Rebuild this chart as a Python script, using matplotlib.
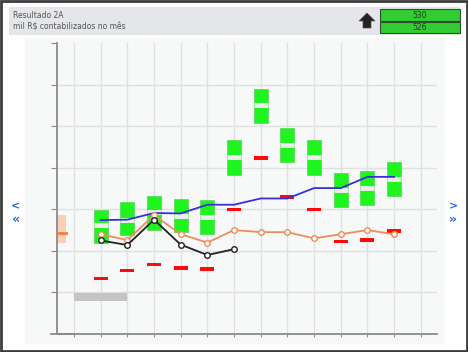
import matplotlib
matplotlib.use("Agg")
import matplotlib.pyplot as plt
from matplotlib.patches import Rectangle, Polygon

# month positions and values (units of the y scale 0..7)
months = list(range(1, 13))
box_low = [2.19, 2.39, 2.51, 2.46, 2.40, 3.82, 5.07, 4.14, 3.82, 3.06, 3.11, 3.32]
box_high = [2.99, 3.18, 3.32, 3.24, 3.22, 4.66, 5.90, 4.95, 4.66, 3.88, 3.92, 4.14]
box_mid = [2.62, 2.75, 2.93, 2.83, 2.81, 4.25, 5.50, 4.54, 4.25, 3.47, 3.51, 3.73]
red_vals = [1.34, 1.53, 1.67, 1.59, 1.56, 2.99, 4.24, 3.30, 2.99, 2.23, 2.26, 2.48]
blue_vals = [2.74, 2.75, 2.91, 2.90, 3.11, 3.11, 3.26, 3.26, 3.51, 3.51, 3.78, 3.78]
orange_vals = [2.40, 2.26, 2.86, 2.40, 2.20, 2.50, 2.45, 2.45, 2.30, 2.40, 2.50, 2.40]
black_months = [1, 2, 3, 4, 5, 6]
black_vals = [2.25, 2.14, 2.75, 2.15, 1.90, 2.04]
ref_low, ref_high, ref_mid = 2.18, 2.86, 2.42
grey_start, grey_end, grey_low, grey_high = 0, 2, 0.80, 0.98

W, H = 468, 352
fig = plt.figure(figsize=(W / 100, H / 100), dpi=100)
fig.patch.set_facecolor("white")


def px(x, y):
    return x / W, 1 - y / H


def prect(x0, y0, x1, y1, z=-5, **kw):
    fx0, fy1 = px(x0, y1)
    r = Rectangle((fx0, fy1), (x1 - x0) / W, (y1 - y0) / H,
                  transform=fig.transFigure, zorder=z, **kw)
    fig.patches.append(r)


# frame, header and plot background
prect(1, 1, 467, 351, z=-10, facecolor="white", edgecolor="#3c3c3c", lw=2)
prect(9, 7, 460, 35, facecolor="#e4e6e9", edgecolor="none")
prect(25, 38, 445, 344, facecolor="#f7f8f8", edgecolor="none")

fig.text(*px(13, 16), "Resultado 2A", fontsize=5.5, color="#555555", va="center")
fig.text(*px(13, 27), "mil R$ contabilizados no mês", fontsize=5.5, color="#555555", va="center")

# up arrow
arrow = [(367, 13), (375, 21), (371, 21), (371, 28), (363, 28), (363, 21), (359, 21)]
fig.patches.append(Polygon([px(x, y) for x, y in arrow], closed=True,
                           transform=fig.transFigure, facecolor="#222222",
                           edgecolor="#555555", lw=0.5, zorder=2))

# header value boxes
prect(380, 9, 460, 21, z=2, facecolor="#33cc33", edgecolor="#2f4f2f", lw=0.8)
prect(380, 22, 460, 33, z=2, facecolor="#33cc33", edgecolor="#2f4f2f", lw=0.8)
fig.text(*px(420, 15.3), "530", fontsize=5.5, color="#1f3a1f", ha="center", va="center")
fig.text(*px(420, 27.8), "526", fontsize=5.5, color="#1f3a1f", ha="center", va="center")

# side navigation chevrons
for x, ys in [(16, ("<", "«")), (453, (">", "»"))]:
    fig.text(*px(x, 206), ys[0], fontsize=8, color="#2a66d6", ha="center",
             va="center", fontweight="bold")
    fig.text(*px(x, 219), ys[1], fontsize=9, color="#2a66d6", ha="center",
             va="center", fontweight="bold")

# main axes
ax = fig.add_axes([57 / W, 18 / H, 380 / W, 291 / H])
ax.set_facecolor("none")
ax.set_xlim(-0.6375, 13.61)
ax.set_ylim(0, 7)

for k in range(14):
    ax.axvline(k, color="#e0e0e0", lw=1, zorder=0)
for v in range(1, 7):
    ax.axhline(v, color="#e0e0e0", lw=1, zorder=0)

for s in ["top", "right"]:
    ax.spines[s].set_visible(False)
ax.spines["left"].set_color("#8a8a8a")
ax.spines["bottom"].set_color("#8a8a8a")
ax.spines["left"].set_linewidth(1.3)
ax.spines["bottom"].set_linewidth(1.3)
ax.set_xticks(range(14))
ax.set_yticks(range(1, 8))
ax.tick_params(axis="x", length=2.5, color="#8a8a8a", labelbottom=False)
ax.tick_params(axis="y", length=4, color="#8a8a8a", labelleft=False)
ax.plot([-0.85, 0], [0, 0], color="#8a8a8a", lw=1.3, clip_on=False)

# reference band on the left
ax.bar(-0.45, ref_high - ref_low, bottom=ref_low, width=0.3,
       color="#fbcfb6", zorder=2)
ax.plot([-0.6, -0.3], [ref_mid, ref_mid], color="#f07e45", lw=2, zorder=3)

# grey bar
ax.bar((grey_start + grey_end) / 2, grey_high - grey_low, bottom=grey_low,
       width=grey_end - grey_start, color="#c4c4c4", zorder=2)

# green boxes with median gap
heights = [h - l for l, h in zip(box_low, box_high)]
ax.bar(months, heights, bottom=box_low, width=0.52, color="#1ef41e",
       edgecolor="#55d455", lw=0.5, zorder=2)
for m, md in zip(months, box_mid):
    ax.plot([m - 0.26, m + 0.26], [md, md], color="#eeeeee", lw=3.5,
            solid_capstyle="butt", zorder=3)

# red dashes
ax.bar(months, [0.085] * 12, bottom=[v - 0.0425 for v in red_vals],
       width=0.52, color="#ff0a0a", zorder=4)

# lines
ax.plot(months, blue_vals, color="#3a2fd6", lw=1.3, zorder=5)
ax.plot(months, orange_vals, color="#f08c5a", lw=1.3, marker="o", ms=4,
        mfc="white", mec="#f08c5a", mew=1, zorder=6)
ax.plot(black_months, black_vals, color="#222222", lw=1.3, marker="o", ms=4,
        mfc="white", mec="#222222", mew=1, zorder=7)

fig.savefig("out.png", dpi=100)
